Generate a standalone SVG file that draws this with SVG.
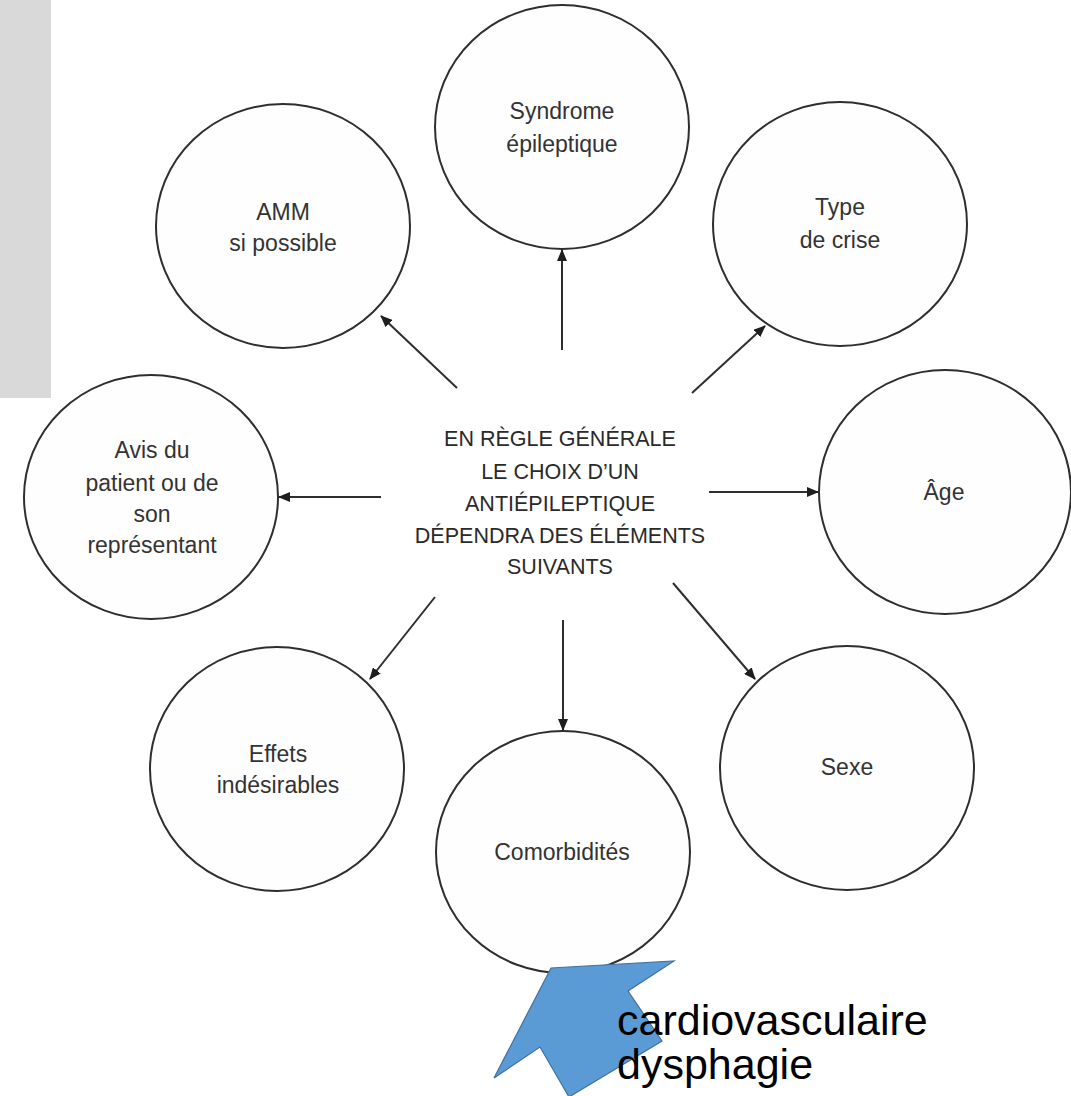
<svg xmlns="http://www.w3.org/2000/svg" width="1071" height="1096" viewBox="0 0 1071 1096">
<style>
.node ellipse{fill:#fefefe;stroke:#2e2e2e;stroke-width:2}
.lbl{font-family:"Liberation Sans",Arial,sans-serif;font-size:23px;fill:#333;text-anchor:middle}
.ctr{font-family:"Liberation Sans",Arial,sans-serif;font-size:21.5px;fill:#2a2a2a;text-anchor:middle}
.conn line{stroke:#2e2e2e;stroke-width:2;marker-end:url(#ah)}
.note{font-family:"Liberation Sans",Arial,sans-serif;font-size:43px;fill:#000}
</style>
<defs>
<marker id="ah" markerUnits="userSpaceOnUse" markerWidth="12" markerHeight="10" refX="11" refY="5" orient="auto">
<path d="M0,0 L12,5 L0,10 Z" fill="#1e1e1e"/>
</marker>
</defs>
<rect width="1071" height="1096" fill="#ffffff"/>
<rect x="0" y="0" width="51" height="398" fill="#d9d9d9"/>

<g id="connectors" class="conn">
<line x1="562" y1="350" x2="562" y2="250"/>
<line x1="692" y1="393" x2="765" y2="326"/>
<line x1="709" y1="492" x2="818" y2="492"/>
<line x1="673" y1="583" x2="755" y2="679"/>
<line x1="563" y1="620" x2="563" y2="730"/>
<line x1="435" y1="597" x2="370" y2="679"/>
<line x1="381" y1="497" x2="279" y2="497"/>
<line x1="457" y1="388" x2="381" y2="316"/>
</g>

<g id="center">
<text class="ctr" x="560" y="446">EN RÈGLE GÉNÉRALE</text>
<text class="ctr" x="560" y="479">LE CHOIX D’UN</text>
<text class="ctr" x="560" y="511">ANTIÉPILEPTIQUE</text>
<text class="ctr" x="560" y="543">DÉPENDRA DES ÉLÉMENTS</text>
<text class="ctr" x="560" y="574">SUIVANTS</text>
</g>

<g id="syndrome" class="node">
<ellipse cx="562" cy="127" rx="127" ry="122"/>
<text class="lbl" x="562" y="119">Syndrome</text>
<text class="lbl" x="562" y="152">épileptique</text>
</g>
<g id="type" class="node">
<ellipse cx="840" cy="224" rx="127" ry="122"/>
<text class="lbl" x="840" y="215">Type</text>
<text class="lbl" x="840" y="248">de crise</text>
</g>
<g id="age" class="node">
<ellipse cx="945" cy="492" rx="126" ry="122"/>
<text class="lbl" x="944" y="500">Âge</text>
</g>
<g id="sexe" class="node">
<ellipse cx="847" cy="768" rx="127" ry="122"/>
<text class="lbl" x="847" y="775">Sexe</text>
</g>
<g id="comorbidites" class="node">
<ellipse cx="563" cy="852" rx="127" ry="121"/>
<text class="lbl" x="562" y="860">Comorbidités</text>
</g>
<g id="effets" class="node">
<ellipse cx="277" cy="769" rx="127" ry="122"/>
<text class="lbl" x="278" y="762">Effets</text>
<text class="lbl" x="278" y="793">indésirables</text>
</g>
<g id="avis" class="node">
<ellipse cx="151" cy="497" rx="127" ry="122"/>
<text class="lbl" x="152" y="458">Avis du</text>
<text class="lbl" x="152" y="491">patient ou de</text>
<text class="lbl" x="152" y="522">son</text>
<text class="lbl" x="152" y="553">représentant</text>
</g>
<g id="amm" class="node">
<ellipse cx="283" cy="226" rx="127" ry="122"/>
<text class="lbl" x="283" y="220">AMM</text>
<text class="lbl" x="283" y="251">si possible</text>
</g>

<g id="blue-arrow">
<polygon points="551,968 674,961 628,991 662,1041 569,1097 540,1047 494,1078" fill="#5b9bd5" stroke="#41719c" stroke-width="1.2"/>
</g>
<g id="note">
<text class="note" x="617" y="1035">cardiovasculaire</text>
<text class="note" x="617" y="1079">dysphagie</text>
</g>
</svg>
